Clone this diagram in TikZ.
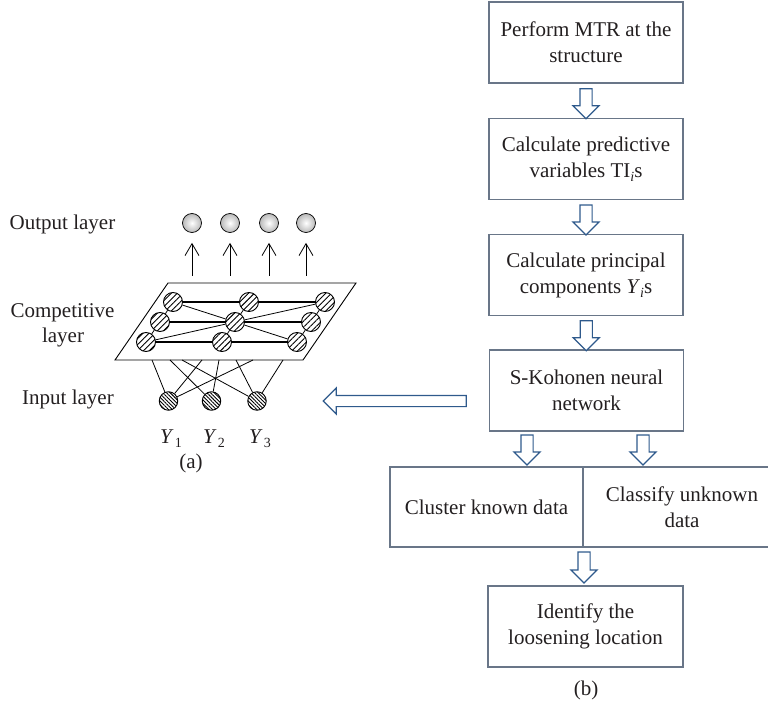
\documentclass[tikz,border=0pt]{standalone}
\usepackage{fontspec}
\setmainfont{Liberation Serif}
\usetikzlibrary{patterns.meta,shapes.arrows,arrows.meta,calc}
\definecolor{boxline}{RGB}{105,118,136}
\definecolor{arrowblue}{RGB}{47,90,140}
\definecolor{ink}{RGB}{35,31,32}
\newcommand{\subidx}[1]{\raisebox{-4.5pt}{\fontsize{14}{14}\selectfont #1}}
\begin{document}
\begin{tikzpicture}[x=1pt,y=-1pt,
  every node/.style={text=ink},
  txt/.style={font=\fontsize{21}{24}\selectfont, inner sep=0pt},
  flowbox/.style={draw=boxline, line width=1.3pt, minimum width=194pt,
    minimum height=81pt, align=center, inner sep=0pt,
    font=\fontsize{21}{26}\selectfont},
  hollow/.style={single arrow, draw=arrowblue, fill=white, line width=1.2pt,
    single arrow head extend=7pt, single arrow head indent=0pt,
    inner sep=5.5pt, minimum height=30pt},
  compnode/.style={circle, draw, line width=0.9pt, minimum size=19pt, inner sep=0pt,
    pattern={Lines[angle=45,distance=4.2pt,line width=0.9pt]}},
  inpnode/.style={circle, draw, line width=0.9pt, minimum size=18.5pt, inner sep=0pt,
    pattern={Lines[angle=-45,distance=2.6pt,line width=0.9pt]}},
  outnode/.style={circle, draw, line width=0.7pt, minimum size=19pt, inner sep=0pt,
    shading=radial, inner color=white, outer color=gray!55},
  outarr/.style={-{Straight Barb[length=12pt,width=14pt]}, line width=0.8pt},
  strong/.style={line width=1.8pt},
  weak/.style={line width=0.8pt}
]
\useasboundingbox (0,0) rectangle (768,708);

% ---------- (a) Kohonen network ----------
% competitive layer plane
\draw[line width=0.9pt, fill=white] (115,360) -- (303,360) -- (356,283) -- (168,283) -- cycle;

% output neurons
\foreach \n/\x in {1/192,2/230,3/269,4/306}{
  \node[outnode] (o\n) at (\x,223) {};
  \draw[outarr] ($(o\n.south)+(0,43)$) -- ($(o\n.south)+(0,10)$);
}

% competitive neurons
\node[compnode] (c11) at (173,302) {};
\node[compnode] (c12) at (249,302) {};
\node[compnode] (c13) at (325,302) {};
\node[compnode] (c21) at (160,322) {};
\node[compnode] (c22) at (235,322) {};
\node[compnode] (c23) at (311,322) {};
\node[compnode] (c31) at (146,342) {};
\node[compnode] (c32) at (222,342) {};
\node[compnode] (c33) at (297,342) {};

\draw[strong] (c11) -- (c12) -- (c13);
\draw[strong] (c21) -- (c22) -- (c23);
\draw[strong] (c31) -- (c32) -- (c33);
\draw[weak] (c11) -- (c22) -- (c33);
\draw[weak] (c31) -- (c22) -- (c13);
\draw[weak] (c11) -- (c21) -- (c31);
\draw[weak] (c12) -- (c22) -- (c32);
\draw[weak] (c13) -- (c23) -- (c33);

% input neurons
\node[inpnode] (i1) at (168.5,401) {};
\node[inpnode] (i2) at (211.5,401) {};
\node[inpnode] (i3) at (257,401) {};

\coordinate (e1) at (152,360);
\coordinate (e2) at (170,360);
\coordinate (e3) at (182,360);
\coordinate (e4) at (202,360);
\coordinate (e5) at (219,360);
\coordinate (e6) at (236,360);
\coordinate (e7) at (253,360);
\coordinate (e8) at (283,360);
\draw[weak] (i1) -- (e1);
\draw[weak] (i1) -- (e4);
\draw[weak] (i1) -- (e7);
\draw[weak] (i2) -- (e2);
\draw[weak] (i2) -- (e5);
\draw[weak] (i3) -- (e3);
\draw[weak] (i3) -- (e6);
\draw[weak] (i3) -- (e8);

% layer labels
\node[txt, anchor=base] (lout) at (62.5,230) {Output layer};
\node[txt, anchor=base] (lcomp1) at (62.5,318) {Competitive};
\node[txt, anchor=base] (lcomp2) at (63,342) {layer};
\node[txt, anchor=base] (lin) at (68,404) {Input layer};
\node[txt, anchor=base] (y1) at (171,443) {\textit{Y}\kern1pt\subidx{1}};
\node[txt, anchor=base] (y2) at (214,443) {\textit{Y}\kern1pt\subidx{2}};
\node[txt, anchor=base] (y3) at (260,443) {\textit{Y}\kern1pt\subidx{3}};
\node[txt] (capa) at (191,463) {(a)};

% ---------- (b) flow chart ----------
\node[flowbox] (b1) at (586,42.5) {Perform MTR at the\\structure};
\node[flowbox] (b2) at (586,159) {Calculate predictive\\variables TI\subidx{\textit{i}}s};
\node[flowbox] (b3) at (586,275) {Calculate principal\\components \textit{Y}\subidx{\textit{i}}s};
\node[flowbox] (b4) at (586.5,390.5) {S-Kohonen neural\\network};
\node[flowbox, minimum width=193pt, minimum height=80pt] (cl) at (486.5,507) {Cluster known data};
\node[flowbox, minimum width=198pt, minimum height=80pt] (cf) at (682,507) {Classify unknown\\data};
\node[flowbox, minimum width=195pt] (b5) at (585.5,626.5) {Identify the\\loosening location};
\node[txt] (capb) at (586,690) {(b)};

% hollow arrows between the steps
\node[hollow, rotate=-90] (a1) at ($(b1.south)!0.5!(b2.north)$) {};
\node[hollow, rotate=-90] (a2) at ($(b2.south)!0.5!(b3.north)$) {};
\node[hollow, rotate=-90] (a3) at ($(b3.south)!0.5!(b4.north)$) {};
\node[hollow, rotate=-90] (a4) at (527,447) {};
\node[hollow, rotate=-90] (a5) at (643,447) {};
\node[hollow, rotate=-90, minimum height=31pt] (a6) at (584,564.5) {};

% arrow from the network step back to diagram (a)
\coordinate (aim) at (326,401);
\node[hollow, rotate=180, minimum height=143pt, inner sep=5pt,
      single arrow head extend=7.5pt] (aback) at ($(aim)!0.5!(469,401)$) {};
\end{tikzpicture}
\end{document}
